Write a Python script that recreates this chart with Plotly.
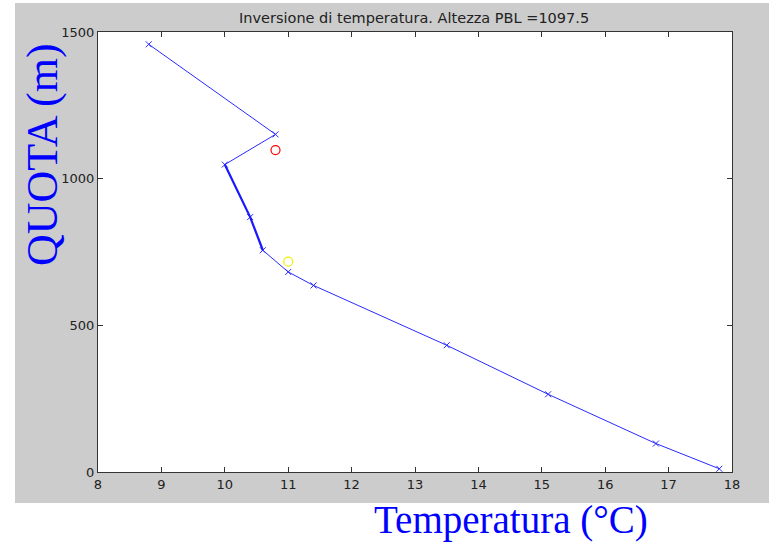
import plotly.graph_objects as go

# Temperature profile (°C) and altitude (m)
temperatura = [8.8, 10.8, 10.0, 10.4, 10.6, 11.0, 11.4, 13.5, 15.1, 16.8, 17.8]
quota = [1458, 1151, 1048, 869, 756, 682, 636, 432, 265, 97, 11]

# Segment drawn twice (appears thicker)
temp_thick = [10.0, 10.4, 10.6]
quota_thick = [1048, 869, 756]

# PBL height marker and second marker
pbl_temp = [10.8]
pbl_quota = [1097.5]
yel_temp = [11.0]
yel_quota = [717]

title_text = "Inversione di temperatura. Altezza PBL =1097.5"
x_ticks = [8, 9, 10, 11, 12, 13, 14, 15, 16, 17, 18]
y_ticks = [0, 500, 1000, 1500]

W, H = 769, 543
L, R, T, B = 98, 732, 32, 472

fig = go.Figure()
fig.add_trace(go.Scatter(
    x=temperatura, y=quota, mode="lines+markers",
    line=dict(color="#2a2aff", width=1),
    marker=dict(symbol="x-thin", size=6, color="#2a2aff", line=dict(color="#2a2aff", width=1)),
    showlegend=False, hoverinfo="skip"))
fig.add_trace(go.Scatter(
    x=temp_thick, y=quota_thick, mode="lines",
    line=dict(color="#1a1aff", width=2.2),
    showlegend=False, hoverinfo="skip"))
fig.add_trace(go.Scatter(
    x=pbl_temp, y=pbl_quota, mode="markers",
    marker=dict(symbol="circle-open", size=9, color="#ff0000", line=dict(color="#ff0000", width=1.2)),
    showlegend=False, hoverinfo="skip"))
fig.add_trace(go.Scatter(
    x=yel_temp, y=yel_quota, mode="markers",
    marker=dict(symbol="circle-open", size=9, color="#f0f000", line=dict(color="#f0f000", width=1.2)),
    showlegend=False, hoverinfo="skip"))

pw, ph = R - L, B - T
def px2x(px):
    return (px - L) / pw
def px2y(py):
    return (B - py) / ph

# grey MATLAB figure background, then white axes area
fig.add_shape(type="rect", xref="paper", yref="paper",
              x0=px2x(15), x1=px2x(770), y0=px2y(503), y1=px2y(3),
              fillcolor="#cccccc", line=dict(width=0), layer="below")
fig.add_shape(type="rect", xref="paper", yref="paper",
              x0=0, x1=1, y0=0, y1=1,
              fillcolor="white", line=dict(width=0), layer="below")

tick_font = dict(family="DejaVu Sans", size=13, color="#222222")
title_font = dict(family="DejaVu Sans", size=14.5, color="#222222")

fig.add_annotation(text=title_text, xref="paper", yref="paper",
                   x=px2x(414), y=px2y(18), xanchor="center", yanchor="middle", showarrow=False,
                   font=title_font)
fig.add_annotation(text="QUOTA (m)", xref="paper", yref="paper",
                   x=px2x(42), y=px2y(155), xanchor="center", yanchor="middle",
                   textangle=-90, showarrow=False,
                   font=dict(family="Liberation Serif, Times New Roman", size=44, color="#0000ff"))
fig.add_annotation(text="Temperatura (°C)", xref="paper", yref="paper",
                   x=px2x(511), y=px2y(520), xanchor="center", yanchor="middle", showarrow=False,
                   font=dict(family="Liberation Serif, Times New Roman", size=39, color="#0000ff"))

fig.update_xaxes(range=[8, 18], tickvals=x_ticks, ticks="inside", ticklen=5,
                 tickcolor="#333333", showline=True, linecolor="#333333", linewidth=1,
                 mirror="ticks", showgrid=False, zeroline=False, tickfont=tick_font)
fig.update_yaxes(range=[0, 1500], tickvals=y_ticks, ticks="inside", ticklen=5,
                 tickcolor="#333333", showline=True, linecolor="#333333", linewidth=1,
                 mirror="ticks", showgrid=False, zeroline=False, tickfont=tick_font)

fig.update_layout(width=W, height=H, margin=dict(l=L, r=W - R, t=T, b=H - B),
                  paper_bgcolor="white", plot_bgcolor="white")

fig.write_html("out.html")
